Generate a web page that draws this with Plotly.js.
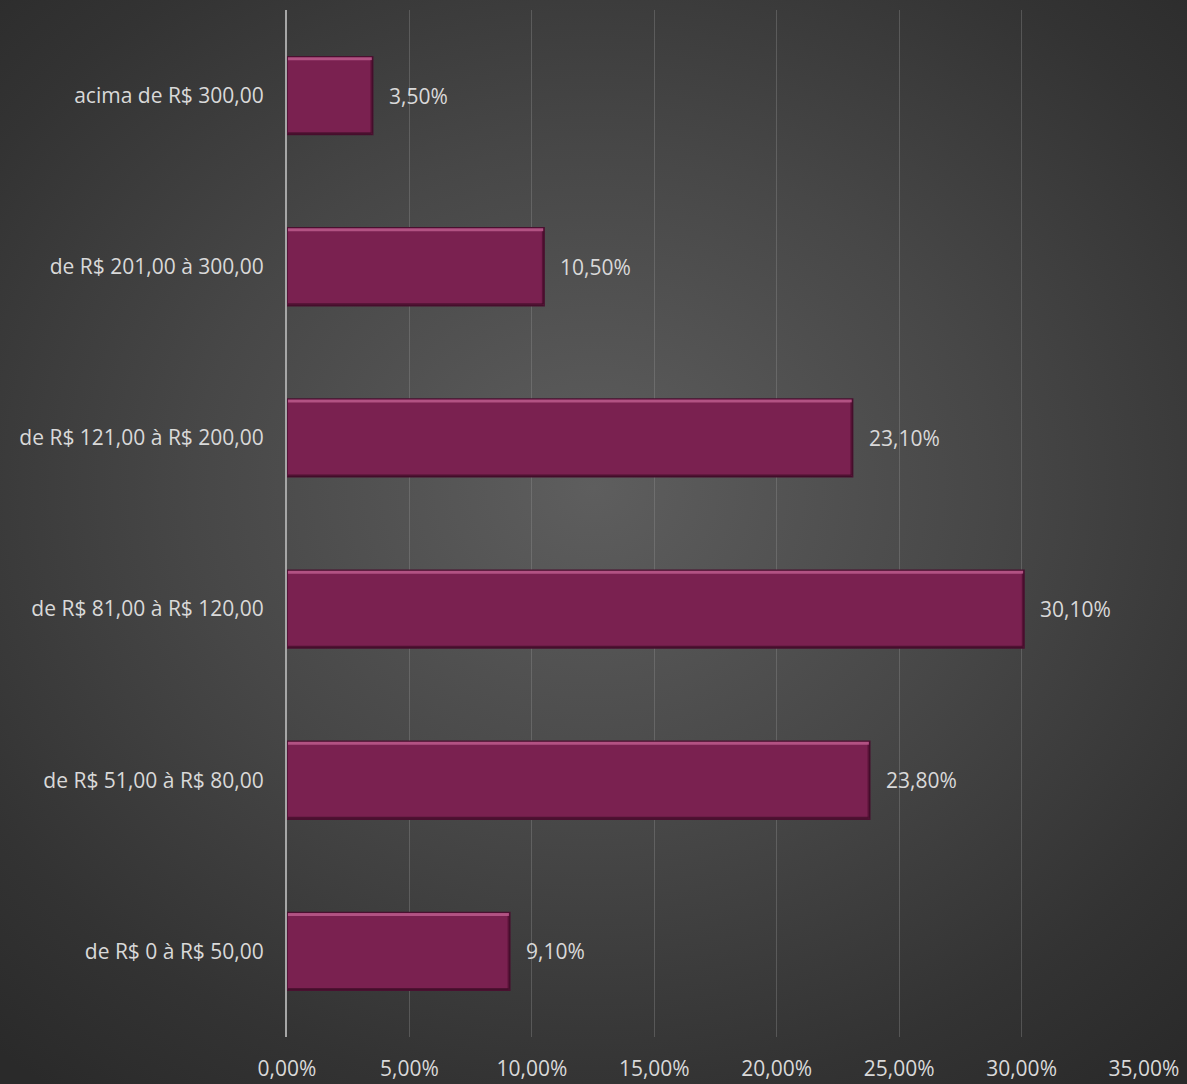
<!DOCTYPE html>
<html>
<head>
<meta charset="utf-8">
<script src="https://cdn.plot.ly/plotly-3.0.1.min.js"></script>
<style>
  html, body { margin: 0; padding: 0; width: 1187px; height: 1084px; overflow: hidden; }
  body { background: radial-gradient(ellipse 75% 70% at 50% 45%, #5e5e5e 0%, #474747 45%, #333333 80%, #2a2a2a 100%); }
  #chart { width: 1187px; height: 1084px; }
</style>
</head>
<body>
<div id="chart"></div>
<script>
const categories = [
  "de R$ 0 à R$ 50,00",
  "de R$ 51,00 à R$ 80,00",
  "de R$ 81,00 à R$ 120,00",
  "de R$ 121,00 à R$ 200,00",
  "de R$ 201,00 à 300,00",
  "acima de R$ 300,00"
];
const values = [0.091, 0.238, 0.301, 0.231, 0.105, 0.035];
const tickValues = [0, 0.05, 0.10, 0.15, 0.20, 0.25, 0.30, 0.35];

const labelColor = "#d9d9d9";
const fontFam = "'Open Sans', 'Noto Sans', sans-serif";
const barWidth = 0.455;

const trace = {
  type: "bar",
  orientation: "h",
  y: categories,
  x: values,
  width: barWidth,
  marker: { color: "#7a2150", line: { color: "#4a1030", width: 1.5 } },
  hoverinfo: "skip"
};

const annotations = values.map((v, i) => ({
  x: v, y: categories[i], xref: "x", yref: "y",
  text: (v * 100).toFixed(2).replace(".", ",") + "%",
  showarrow: false, xanchor: "left", yanchor: "middle", xshift: 14,
  font: { family: fontFam, size: 21, color: labelColor }
}));

// bevel decoration derived from the bar values
const shapes = [];
values.forEach((v, i) => {
  const top = i + barWidth / 2;
  const bot = i - barWidth / 2;
  shapes.push({ type: "line", xref: "x", yref: "y", x0: 0.0004, x1: v - 0.0004, y0: top - 0.012, y1: top - 0.012,
    line: { color: "rgba(215,115,165,0.6)", width: 3 } });
  shapes.push({ type: "line", xref: "x", yref: "y", x0: 0.0004, x1: v - 0.0004, y0: bot + 0.008, y1: bot + 0.008,
    line: { color: "rgba(50,8,30,0.6)", width: 2 } });
  shapes.push({ type: "line", xref: "x", yref: "y", x0: v - 0.0005, x1: v - 0.0005, y0: bot + 0.01, y1: top - 0.02,
    line: { color: "rgba(60,10,35,0.55)", width: 2 } });
});

const layout = {
  width: 1187, height: 1084,
  margin: { l: 287, r: 43, t: 10, b: 47 },
  paper_bgcolor: "rgba(0,0,0,0)",
  plot_bgcolor: "rgba(0,0,0,0)",
  separators: ",.",
  showlegend: false,
  xaxis: {
    range: [0, 0.35],
    tickvals: tickValues,
    tickformat: ".2%",
    showgrid: true, gridcolor: "rgba(150,150,150,0.35)", gridwidth: 1,
    zeroline: false, showline: false, ticks: "",
    ticklabelstandoff: 17,
    tickfont: { family: fontFam, size: 21, color: labelColor },
    fixedrange: true
  },
  yaxis: {
    type: "category",
    categoryorder: "array", categoryarray: categories,
    range: [-0.5, 5.5],
    showgrid: false, zeroline: false,
    showline: true, linecolor: "#a6a6a6", linewidth: 2,
    ticks: "", ticklabelstandoff: 17,
    tickfont: { family: fontFam, size: 21, color: labelColor },
    fixedrange: true
  },
  shapes: shapes,
  annotations: annotations
};

Plotly.newPlot("chart", [trace], layout, { displayModeBar: false, staticPlot: true });
</script>
</body>
</html>
